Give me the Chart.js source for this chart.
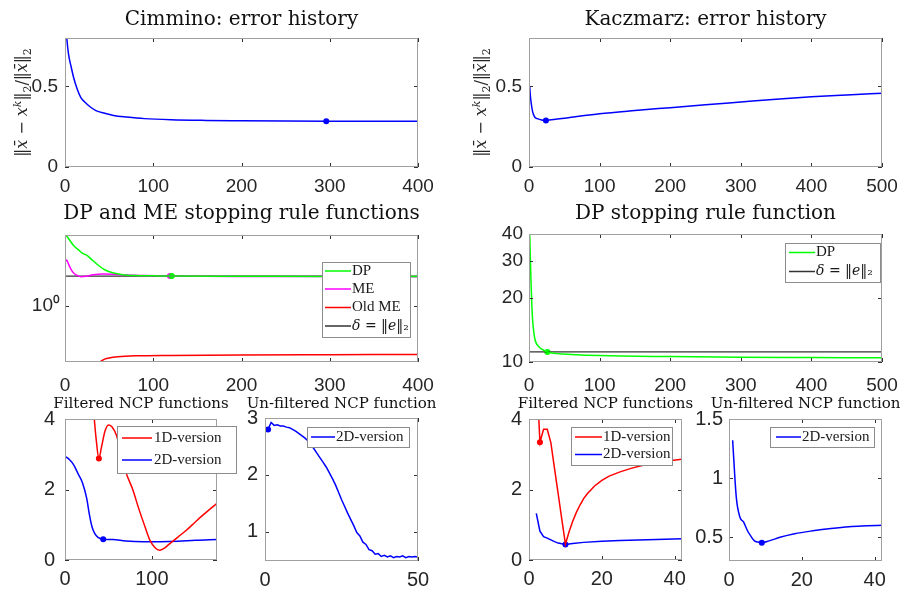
<!DOCTYPE html>
<html>
<head>
<meta charset="utf-8">
<script src="https://cdn.jsdelivr.net/npm/chart.js@4.4.1/dist/chart.umd.min.js"></script>
<style>
  body { margin: 0; background: #fff; width: 911px; height: 589px; position: relative; overflow: hidden; }
  canvas { position: absolute; }
</style>
</head>
<body>
<script>
// ---- data ----

// Cimmino: error history
const cimIt  = [1, 2, 4, 7, 10, 14, 18, 23, 28, 35, 45, 55, 70, 90, 120, 160, 200, 250, 300, 350, 400];
const cimErr = [0.88, 0.80, 0.70, 0.62, 0.55, 0.48, 0.43, 0.40, 0.375, 0.35, 0.333, 0.32, 0.31, 0.30, 0.293, 0.289, 0.287, 0.285, 0.284, 0.284, 0.284];
const cimStop = [296, 0.284];

// Kaczmarz: error history
const kacIt  = [1, 2, 3, 5, 8, 12, 18, 24, 40, 60, 100, 150, 200, 250, 300, 350, 400, 450, 500];
const kacErr = [0.50, 0.44, 0.40, 0.345, 0.31, 0.30, 0.292, 0.289, 0.297, 0.308, 0.33, 0.35, 0.368, 0.386, 0.403, 0.42, 0.435, 0.447, 0.458];
const kacStop = [24, 0.289];

// DP and ME stopping rule functions (Cimmino)
const dpIt   = [1, 5, 10, 15, 20, 25, 30, 38, 45, 55, 65, 80, 100, 120, 200, 300, 400];
const dpVal  = [1.5, 1.46, 1.41, 1.38, 1.35, 1.335, 1.305, 1.26, 1.23, 1.207, 1.196, 1.19, 1.188, 1.186, 1.185, 1.184, 1.184];
const meIt   = [1, 2, 4, 7, 10, 14, 18, 24, 32, 42, 55, 70, 90, 120, 200, 300, 400];
const meVal  = [1.29, 1.30, 1.27, 1.23, 1.205, 1.19, 1.182, 1.185, 1.195, 1.20, 1.198, 1.193, 1.19, 1.187, 1.184, 1.183, 1.182];
const oldIt  = [37, 40, 45, 50, 60, 80, 120, 200, 300, 400];
const oldVal = [0.72, 0.728, 0.738, 0.743, 0.748, 0.752, 0.754, 0.756, 0.757, 0.758];
const deltaCim = 1.186;
const dpStopCim = [121, 1.186];
const meStopCim = [119, 1.186];

// DP stopping rule function (Kaczmarz)
const dp2It  = [1, 2, 3, 4, 5, 6, 8, 10, 14, 18, 26, 40, 60, 100, 200, 300, 400, 500];
const dp2Val = [40, 30, 23, 18.5, 16, 14.6, 13, 12.3, 11.8, 11.5, 11.15, 10.95, 10.85, 10.72, 10.6, 10.53, 10.5, 10.47];
const deltaKac = 11.15;
const dpStopKac = [26, 11.15];

// Filtered NCP functions (Cimmino)
const f1It  = [33, 36, 39, 42, 46, 50, 54, 59, 64, 70, 78, 85, 92, 98, 104, 109, 114, 120, 130, 140, 150, 160, 175];
const f1Val = [4.2, 3.4, 2.88, 3.2, 3.65, 3.83, 3.78, 3.55, 3.1, 2.5, 2.0, 1.45, 0.95, 0.55, 0.34, 0.28, 0.33, 0.45, 0.65, 0.85, 1.08, 1.3, 1.61];
const f2It  = [1, 5, 10, 15, 20, 25, 28, 31, 34, 38, 44, 55, 70, 90, 110, 130, 150, 175];
const f2Val = [2.93, 2.85, 2.7, 2.45, 2.2, 1.75, 1.3, 0.95, 0.76, 0.64, 0.59, 0.58, 0.54, 0.52, 0.52, 0.53, 0.56, 0.58];
const f1Stop = [39, 2.88];
const f2Stop = [44, 0.59];

// Un-filtered NCP function (Cimmino), one value per iteration 1..50
const unVal = [2.80, 2.92, 2.87, 2.88, 2.86, 2.86, 2.84, 2.83, 2.80, 2.77, 2.73, 2.69, 2.65, 2.60, 2.53, 2.46, 2.38, 2.30, 2.22, 2.14,
               2.04, 1.94, 1.83, 1.70, 1.57, 1.45, 1.33, 1.22, 1.11, 0.99, 0.93, 0.82, 0.78, 0.69, 0.67, 0.61, 0.62, 0.57, 0.59, 0.56,
               0.58, 0.55, 0.57, 0.56, 0.58, 0.55, 0.57, 0.56, 0.57, 0.56];
const unIt = unVal.map((_, i) => i + 1);
const unStop = [1, 2.80];

// Filtered NCP functions (Kaczmarz)
const k1It  = [2, 3, 4, 5, 6, 7, 8, 9, 10, 11, 12, 13, 14, 15, 16, 18, 20, 22, 25, 28, 31, 35, 38, 42];
const k1Val = [5.5, 3.34, 3.71, 3.71, 3.33, 2.6, 1.88, 1.16, 0.45, 0.8, 1.1, 1.35, 1.56, 1.74, 1.88, 2.1, 2.26, 2.38, 2.5, 2.6, 2.68, 2.76, 2.81, 2.86];
const k2It  = [2, 3, 4, 5, 6, 7, 8, 9, 10, 12, 15, 20, 25, 30, 35, 42];
const k2Val = [1.32, 0.82, 0.66, 0.62, 0.57, 0.52, 0.48, 0.46, 0.44, 0.47, 0.5, 0.53, 0.55, 0.57, 0.58, 0.6];
const k1Stop = [3, 3.34];
const k2Stop = [10, 0.44];

// Un-filtered NCP function (Kaczmarz)
const u2It  = [1, 2, 3, 4, 5, 6, 7, 8, 9, 11, 14, 18, 23, 28, 33, 38, 42];
const u2Val = [1.32, 0.84, 0.67, 0.63, 0.56, 0.51, 0.47, 0.46, 0.455, 0.47, 0.5, 0.53, 0.555, 0.575, 0.59, 0.597, 0.602];
const u2Stop = [9, 0.455];

// ---- helpers ----
const SERIF = "'DejaVu Serif', 'Liberation Serif', serif";
const LEGF = "'Liberation Serif', 'Times New Roman', serif";
const SANS = "'Liberation Sans', Arial, sans-serif";
const BLUE = '#0000ff', RED = '#ff0000', GREEN = '#00ff00', MAG = '#ff00ff', DARK = '#333333';

// ||xbar - x^k||_2 / ||xbar||_2, pieces: text, italic, sup, sub
const errLabel = [
  {t: '\u2016'}, {t: 'x\u0304', i: 1}, {t: ' \u2212 '}, {t: 'x', i: 1}, {t: 'k', i: 1, sup: 1},
  {t: '\u2016'}, {t: '2', sub: 1}, {t: '/\u2016'}, {t: 'x\u0304', i: 1}, {t: '\u2016'}, {t: '2', sub: 1}
];

const pts = (xs, ys) => xs.map((x, i) => ({x, y: ys[i]}));
const line = (label, xs, ys, color, extra) => Object.assign({
  label, data: pts(xs, ys), borderColor: color, borderWidth: 1.5,
  pointRadius: 0, fill: false, cubicInterpolationMode: 'monotone'
}, extra || {});
const mark = (p, color) => ({
  data: [{x: p[0], y: p[1]}], showLine: false, pointRadius: 3,
  pointBackgroundColor: color, pointBorderWidth: 0
});
const flat = (label, x0, x1, v) => ({
  label, data: [{x: x0, y: v}, {x: x1, y: v}], borderColor: DARK,
  borderWidth: 1.2, pointRadius: 0, fill: false
});

// draws a label where *...* parts are italic; math labels use DejaVu (has the norm bars)
function richText(ctx, s, x, y) {
  const math = s.indexOf('\u2016') >= 0;
  const fam = math ? SERIF : LEGF, size = math ? 14 : 15;
  s.split('*').forEach((part, i) => {
    ctx.font = (i % 2 ? 'italic ' : '') + size + 'px ' + fam;
    ctx.fillText(part, x, y);
    x += ctx.measureText(part).width;
  });
}

// rotated axis label made of pieces
function drawMath(ctx, segs, cx, cy, size) {
  const fontOf = s => (s.i ? 'italic ' : '') + Math.round(s.sup || s.sub ? size * 0.7 : size) + 'px ' + SERIF;
  ctx.save();
  ctx.translate(cx, cy);
  ctx.rotate(-Math.PI / 2);
  let w = 0;
  segs.forEach(s => { ctx.font = fontOf(s); w += ctx.measureText(s.t).width; });
  let x = -w / 2;
  ctx.fillStyle = '#262626';
  ctx.textBaseline = 'alphabetic';
  segs.forEach(s => {
    ctx.font = fontOf(s);
    const dy = s.sup ? -size * 0.42 : s.sub ? size * 0.22 : 0;
    ctx.fillText(s.t, x, size * 0.33 + dy);
    x += ctx.measureText(s.t).width;
  });
  ctx.restore();
}

function panel(p) {
  const cv = document.createElement('canvas');
  const [cx0, cy0, cx1, cy1] = p.canvas;
  cv.width = cx1 - cx0; cv.height = cy1 - cy0;
  cv.style.left = cx0 + 'px'; cv.style.top = cy0 + 'px';
  document.body.appendChild(cv);
  const [l, t, r, b] = p.plot;
  const padL = l - cx0, padT = t - cy0, padR = cx1 - r, padB = cy1 - b;

  const deco = {
    id: 'deco',
    afterDatasetsDraw(chart) {
      const {ctx, chartArea: a, scales: {x, y}} = chart;
      ctx.save();
      ctx.strokeStyle = '#303030';
      ctx.lineWidth = 1;
      ctx.beginPath();
      x.ticks.forEach(tk => {
        const px = Math.round(x.getPixelForValue(tk.value)) + 0.5;
        ctx.moveTo(px, a.bottom); ctx.lineTo(px, a.bottom - 4);
        ctx.moveTo(px, a.top); ctx.lineTo(px, a.top + 4);
      });
      y.ticks.forEach(tk => {
        const py = Math.round(y.getPixelForValue(tk.value)) + 0.5;
        ctx.moveTo(a.left, py); ctx.lineTo(a.left + 4, py);
        ctx.moveTo(a.right, py); ctx.lineTo(a.right - 4, py);
      });
      ctx.stroke();
      ctx.strokeStyle = '#a0a0a0';
      ctx.strokeRect(a.left + 0.5, a.top + 0.5, a.width - 1, a.height - 1);
      ctx.restore();
    },
    afterDraw(chart) {
      const ctx = chart.ctx;
      // panel title, centred over the axes box
      ctx.save();
      ctx.font = p.tsize + 'px ' + SERIF;
      ctx.fillStyle = '#111';
      ctx.textAlign = 'center';
      ctx.textBaseline = 'alphabetic';
      ctx.fillText(p.title, (l + r) / 2 - cx0, p.tby - cy0);
      ctx.restore();
      if (p.ytitle) drawMath(ctx, p.ytitle, p.ytx - cx0, (t + b) / 2 - cy0, 16);
      const lg = p.legend;
      if (!lg) return;
      const [bx0, by0, bx1, by1] = lg.box.map((v, i) => v - (i % 2 ? cy0 : cx0));
      ctx.save();
      ctx.fillStyle = '#fff';
      ctx.fillRect(bx0, by0, bx1 - bx0, by1 - by0);
      ctx.strokeStyle = '#8c8c8c';
      ctx.lineWidth = 1;
      ctx.strokeRect(Math.round(bx0) + 0.5, Math.round(by0) + 0.5, Math.round(bx1 - bx0), Math.round(by1 - by0));
      const items = chart.data.datasets.filter(d => d.label);
      items.forEach((d, i) => {
        const yy = lg.rows[i] - cy0;
        ctx.strokeStyle = d.borderColor;
        ctx.lineWidth = 1.5;
        ctx.beginPath();
        ctx.moveTo(lg.line[0] - cx0, yy); ctx.lineTo(lg.line[1] - cx0, yy);
        ctx.stroke();
        ctx.fillStyle = '#1a1a1a';
        ctx.textBaseline = 'middle';
        richText(ctx, d.label, lg.text - cx0, yy);
      });
      ctx.restore();
    }
  };

  new Chart(cv, {
    type: 'line',
    data: {datasets: p.sets},
    options: {
      responsive: false,
      animation: false,
      events: [],
      layout: {padding: {left: 0, top: padT, right: padR, bottom: 0}},
      plugins: {
        legend: {display: false},
        tooltip: {enabled: false},
        title: {display: false}
      },
      scales: {
        x: {
          type: 'linear', min: p.xr[0], max: p.xr[1],
          grid: {display: false, drawTicks: false}, border: {display: false},
          ticks: {color: '#262626', padding: p.xpad, maxRotation: 0, font: {family: SANS, size: p.fsize}},
          afterBuildTicks: s => { s.ticks = p.xt.map(v => ({value: v})); },
          afterFit: s => { s.height = padB; s.paddingLeft = 0; s.paddingRight = 0; }
        },
        y: {
          type: p.ylog ? 'logarithmic' : 'linear', min: p.yr[0], max: p.yr[1],
          grid: {display: false, drawTicks: false}, border: {display: false},
          ticks: {
            color: '#262626', padding: p.ypad, font: {family: SANS, size: p.fsize},
            callback: v => (p.yfmt ? p.yfmt(v) : String(v))
          },
          afterBuildTicks: s => { s.ticks = p.yt.map(v => ({value: v})); },
          afterFit: s => { s.width = padL; s.paddingTop = 0; s.paddingBottom = 0; }
        }
      }
    },
    plugins: [deco]
  });
}

// ---- top row ----
panel({
  canvas: [0, 4, 438, 197], plot: [65, 38, 418, 167],
  title: 'Cimmino: error history', tsize: 20, tby: 25, fsize: 19, xpad: 8, ypad: 7,
  xr: [0, 400], yr: [0, 0.8], xt: [0, 100, 200, 300, 400], yt: [0, 0.5],
  ytitle: errLabel, ytx: 22,
  sets: [line(null, cimIt, cimErr, BLUE), mark(cimStop, BLUE)]
});
panel({
  canvas: [460, 4, 907, 197], plot: [529, 38, 882, 167],
  title: 'Kaczmarz: error history', tsize: 20, tby: 25, fsize: 19, xpad: 8, ypad: 7,
  xr: [0, 500], yr: [0, 0.8], xt: [0, 100, 200, 300, 400, 500], yt: [0, 0.5],
  ytitle: errLabel, ytx: 481,
  sets: [line(null, kacIt, kacErr, BLUE), mark(kacStop, BLUE)]
});

// ---- middle row ----
panel({
  canvas: [0, 201, 438, 394], plot: [65, 235, 418, 362],
  title: 'DP and ME stopping rule functions', tsize: 20, tby: 219, fsize: 19, xpad: 12, ypad: 5,
  xr: [0, 400], yr: [0.726, 1.5], ylog: true, xt: [0, 100, 200, 300, 400], yt: [1],
  yfmt: () => '10\u2070',
  sets: [
    line('DP', dpIt, dpVal, GREEN),
    line('ME', meIt, meVal, MAG),
    line('Old ME', oldIt, oldVal, RED),
    flat('*\u03B4* = \u2016*e*\u2016\u2082', 0, 400, deltaCim),
    mark(dpStopCim, GREEN), mark(meStopCim, MAG)
  ],
  legend: {box: [322, 262, 410, 337], rows: [271, 289, 307.5, 326], line: [325, 351], text: 352}
});
panel({
  canvas: [460, 201, 907, 394], plot: [529, 234, 882, 362],
  title: 'DP stopping rule function', tsize: 20, tby: 219, fsize: 19, xpad: 12, ypad: 6,
  xr: [0, 500], yr: [10, 40], ylog: true, xt: [0, 100, 200, 300, 400, 500], yt: [10, 20, 30, 40],
  sets: [
    line('DP', dp2It, dp2Val, GREEN),
    flat('*\u03B4* = \u2016*e*\u2016\u2082', 0, 500, deltaKac),
    mark(dpStopKac, GREEN)
  ],
  legend: {box: [785, 243, 880, 282], rows: [252.5, 271.5], line: [789, 815], text: 816}
});

// ---- bottom row ----
panel({
  canvas: [20, 392, 242, 589], plot: [65, 419, 217, 560],
  title: 'Filtered NCP functions', tsize: 15, tby: 408, fsize: 20, xpad: 7, ypad: 10,
  xr: [0, 175], yr: [0, 4], xt: [0, 100], yt: [0, 2, 4],
  sets: [
    line('1D-version', f1It, f1Val, RED),
    line('2D-version', f2It, f2Val, BLUE),
    mark(f1Stop, RED), mark(f2Stop, BLUE)
  ],
  legend: {box: [117, 426, 236, 473], rows: [438, 460], line: [122, 152], text: 154}
});
panel({
  canvas: [232, 392, 446, 589], plot: [265, 418, 418, 561],
  title: 'Un-filtered NCP function', tsize: 15, tby: 408, fsize: 20, xpad: 7, ypad: 7,
  xr: [0, 50], yr: [0.49, 3], xt: [0, 50], yt: [1, 2, 3],
  sets: [
    line('2D-version', unIt, unVal, BLUE, {cubicInterpolationMode: 'default', tension: 0}),
    mark(unStop, BLUE)
  ],
  legend: {box: [307, 427, 409, 447], rows: [437], line: [311, 335], text: 336}
});
panel({
  canvas: [484, 392, 707, 589], plot: [529, 419, 682, 560],
  title: 'Filtered NCP functions', tsize: 15, tby: 408, fsize: 20, xpad: 7, ypad: 7,
  xr: [0, 42], yr: [0, 4], xt: [0, 20, 40], yt: [0, 2, 4],
  sets: [
    line('1D-version', k1It, k1Val, RED, {cubicInterpolationMode: 'default', tension: 0}),
    line('2D-version', k2It, k2Val, BLUE, {cubicInterpolationMode: 'default', tension: 0}),
    mark(k1Stop, RED), mark(k2Stop, BLUE)
  ],
  legend: {box: [571, 427, 672, 465], rows: [437, 454.5], line: [575, 602], text: 603}
});
panel({
  canvas: [690, 392, 911, 589], plot: [729, 419, 882, 561],
  title: 'Un-filtered NCP function', tsize: 15, tby: 408, fsize: 20, xpad: 7, ypad: 6,
  xr: [0, 42], yr: [0.3, 1.5], xt: [0, 20, 40], yt: [0.5, 1, 1.5],
  sets: [
    line('2D-version', u2It, u2Val, BLUE),
    mark(u2Stop, BLUE)
  ],
  legend: {box: [770, 427, 874, 447], rows: [437], line: [776, 801], text: 802}
});
</script>
</body>
</html>
